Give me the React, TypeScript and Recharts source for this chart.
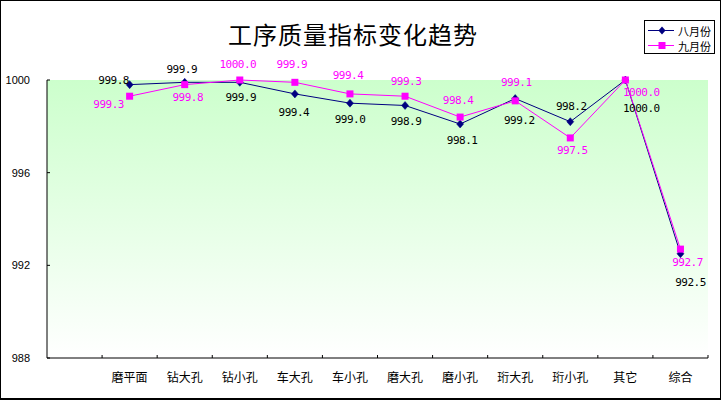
import React from "react";
import { LineChart, Line, XAxis, YAxis, CartesianGrid, LabelList } from "recharts";

// categories after the empty first slot of the axis
const categories = ["磨平面", "钻大孔", "钻小孔", "车大孔", "车小孔", "磨大孔", "磨小孔", "珩大孔", "珩小孔", "其它", "综合"];
const augustValues = [999.8, 999.9, 999.9, 999.4, 999.0, 998.9, 998.1, 999.2, 998.2, 1000.0, 992.5];
const septemberValues = [999.3, 999.8, 1000.0, 999.9, 999.4, 999.3, 998.4, 999.1, 997.5, 1000.0, 992.7];
const yTicks = [988, 992, 996, 1000];
const seriesNames = ["八月份", "九月份"];
const chartTitle = "工序质量指标变化趋势";

// label placement (dx, dy from the point), as in the source sheet
const augustLabelOffset = [[-16, -4], [-3, -13], [1, 15], [-1, 19], [0, 16], [1, 16], [2, 16], [4, 22], [1, -15], [16, 28], [10, 29]];
const septemberLabelOffset = [[-21, 8], [3, 13], [-2, -16], [-3, -18], [-2, -18], [1, -15], [-2, -17], [1, -18], [2, 13], [16, 12], [7, 13]];

const W = 721;
const H = 400;
const PLOT_LEFT = 47;
const PLOT_RIGHT = 708;
const PLOT_TOP = 80;
const PLOT_BOTTOM = 358;
const SLOTS = categories.length + 1;
const BAND = (PLOT_RIGHT - PLOT_LEFT) / SLOTS;

const AUG = "#000080";
const SEP = "#FF00FF";
const CJK = "'Noto Sans CJK SC', sans-serif";
const NUM = "'DejaVu Sans Mono', monospace";

const data = categories.map((name, i) => ({
  pos: i + 1.5,
  name,
  aug: augustValues[i],
  sep: septemberValues[i],
}));

const xTicks = Array.from({ length: SLOTS + 1 }, (_, i) => i);

function XTick(props: any) {
  const { x, payload } = props;
  const v = payload.value;
  const label = v >= 1 && v <= categories.length ? categories[v - 1] : "";
  return (
    <g>
      {v > 0 && <line x1={x} x2={x} y1={PLOT_BOTTOM} y2={PLOT_BOTTOM - 3} stroke="#000" />}
      {label && (
        <text x={x + BAND / 2} y={PLOT_BOTTOM + 18} textAnchor="middle" dominantBaseline="central" fontSize={12} fontFamily={CJK} fill="#000">
          {label}
        </text>
      )}
    </g>
  );
}

function YTick(props: any) {
  const { y, payload } = props;
  return (
    <g>
      <line x1={PLOT_LEFT} x2={PLOT_LEFT + 3} y1={y} y2={y} stroke="#000" />
      <text x={30} y={y} textAnchor="end" dominantBaseline="central" fontSize={11} fontFamily="'Liberation Sans', Arial, sans-serif" fill="#000">
        {payload.value}
      </text>
    </g>
  );
}

function Diamond(props: any) {
  const { cx, cy, index } = props;
  if (cx == null || cy == null) return <g key={index} />;
  return <path key={index} d={`M${cx},${cy - 4}L${cx + 3.5},${cy}L${cx},${cy + 4}L${cx - 3.5},${cy}Z`} fill={AUG} stroke={AUG} strokeWidth={0.5} />;
}

function Square(props: any) {
  const { cx, cy, index } = props;
  if (cx == null || cy == null) return <g key={index} />;
  return <rect key={index} x={cx - 3.5} y={cy - 3.5} width={7} height={7} fill={SEP} />;
}

function makeLabel(offsets: number[][], color: string) {
  return (props: any) => {
    const { x, y, value, index } = props;
    const [dx, dy] = offsets[index] || [0, -14];
    return (
      <text x={x + dx} y={y + dy} textAnchor="middle" dominantBaseline="central" fontSize={11} letterSpacing={-0.5} fontFamily={NUM} fill={color}>
        {Number(value).toFixed(1)}
      </text>
    );
  };
}

function LegendBox() {
  const rows = [
    { name: seriesNames[0], color: AUG, shape: "diamond" },
    { name: seriesNames[1], color: SEP, shape: "square" },
  ];
  return (
    <svg width={71} height={34} style={{ position: "absolute", left: 644, top: 20, display: "block" }}>
      <rect x={0.5} y={0.5} width={70} height={33} fill="#fff" stroke="#000" />
      {rows.map((r, i) => {
        const cy = 10.5 + i * 15;
        return (
          <g key={r.name}>
            <line x1={4} x2={30} y1={cy} y2={cy} stroke={r.color} />
            {r.shape === "diamond" ? (
              <path d={`M18,${cy - 4}L21.5,${cy}L18,${cy + 4}L14.5,${cy}Z`} fill={r.color} />
            ) : (
              <rect x={14.5} y={cy - 3.5} width={7} height={7} fill={r.color} />
            )}
            <text x={34} y={cy} dominantBaseline="central" fontSize={11} fontFamily={CJK} fill="#000">
              {r.name}
            </text>
          </g>
        );
      })}
    </svg>
  );
}

export default function App() {
  return (
    <div style={{ position: "relative", width: W, height: H, background: "#fff" }}>
      <style>{"body{margin:0}"}</style>
      <div
        style={{
          position: "absolute",
          left: 0,
          top: 16,
          width: 706,
          textAlign: "center",
          fontFamily: CJK,
          fontSize: 24,
          lineHeight: "36px",
          letterSpacing: 1,
          color: "#000",
        }}
      >
        {chartTitle}
      </div>
      <LineChart width={W} height={H} data={data} margin={{ top: PLOT_TOP, right: W - PLOT_RIGHT, bottom: 0, left: 0 }}>
        <defs>
          <linearGradient id="plotBg" x1="0" y1="0" x2="0" y2="1">
            <stop offset="0%" stopColor="#CCFFCC" />
            <stop offset="100%" stopColor="#FFFFFF" />
          </linearGradient>
        </defs>
        <CartesianGrid horizontal={false} vertical={false} fill="url(#plotBg)" fillOpacity={1} />
        <XAxis
          dataKey="pos"
          type="number"
          domain={[0, SLOTS]}
          ticks={xTicks}
          interval={0}
          height={H - PLOT_BOTTOM}
          tickSize={0}
          tickMargin={0}
          tickLine={false}
          axisLine={{ stroke: "#000" }}
          tick={<XTick />}
        />
        <YAxis
          type="number"
          domain={[988, 1000]}
          ticks={yTicks}
          interval={0}
          width={PLOT_LEFT}
          tickSize={0}
          tickMargin={0}
          tickLine={false}
          axisLine={{ stroke: "#000" }}
          tick={<YTick />}
        />
        <Line
          name={seriesNames[0]}
          dataKey="aug"
          type="linear"
          stroke={AUG}
          strokeWidth={1}
          dot={<Diamond />}
          activeDot={false}
          isAnimationActive={false}
        >
          <LabelList dataKey="aug" content={makeLabel(augustLabelOffset, "#000")} />
        </Line>
        <Line
          name={seriesNames[1]}
          dataKey="sep"
          type="linear"
          stroke={SEP}
          strokeWidth={1}
          dot={<Square />}
          activeDot={false}
          isAnimationActive={false}
        >
          <LabelList dataKey="sep" content={makeLabel(septemberLabelOffset, SEP)} />
        </Line>
      </LineChart>
      <LegendBox />
      <div style={{ position: "absolute", left: 0, top: 0, width: W, height: H, boxSizing: "border-box", border: "1px solid #000", borderBottomWidth: 2, pointerEvents: "none" }} />
    </div>
  );
}
